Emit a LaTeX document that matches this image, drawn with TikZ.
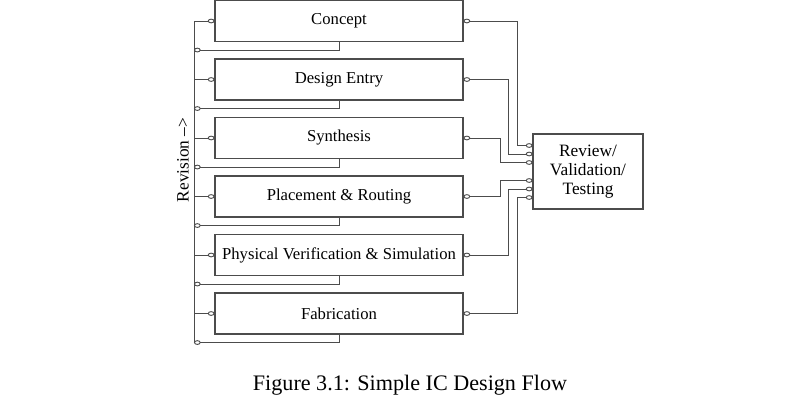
\documentclass[tikz,border=0pt]{standalone}
\usepackage{fontspec}
\setmainfont{Liberation Serif}
\usetikzlibrary{arrows.meta}

\tikzset{
  stage/.style={draw=black!70, line width=0.8pt, minimum width=186pt, minimum height=30.75pt, inner sep=0pt, font=\fontsize{12.5}{14}\selectfont},
  review/.style={draw=black!70, line width=0.8pt, minimum width=82.5pt, minimum height=56.25pt, align=center, font=\fontsize{13}{14.5}\selectfont},
  ring/.tip={Circle[open, length=5pt, width=3.5pt]},
  wire/.style={draw=black!70, line width=0.7pt},
}

\begin{document}
\begin{tikzpicture}[x=0.75pt,y=-0.75pt]
\useasboundingbox (0,0) rectangle (797,404);

% stages
\node[stage] (c1) at (339,21)    {Concept};
\node[stage] (c2) at (339,79.5)  {Design Entry};
\node[stage] (c3) at (339,138)   {Synthesis};
\node[stage] (c4) at (339,196.5) {Placement \& Routing};
\node[stage] (c5) at (339,255)   {Physical Verification \& Simulation};
\node[stage] (c6) at (339,313.5) {Fabrication};

\node[review] (rv) at (588,171.5) {Review/\\Validation/\\Testing};

% revision bus on the left
\coordinate (bus) at (194,0);
\coordinate (bend) at (194,343);
\draw[wire] (bus |- c1.west) -- (bend);
\node[rotate=90, font=\fontsize{13}{14}\selectfont] (rev) at (183,160) {Revision -->};

\foreach \i in {1,...,6}
  \draw[wire, -ring] (bus |- c\i.west) -- (c\i.west);

% feedback from each stage
\foreach \i in {1,...,6}
  \draw[wire, -ring] (c\i.south) -- ++(0,8) coordinate (fb\i) -- (fb\i -| bus);

% links to review
\foreach \i/\x/\dy in {1/517/-26, 2/508/-17.5, 3/500/-9, 4/500/9, 5/508/17.5, 6/517/26} {
  \path (rv.west) ++(0,\dy) coordinate (r\i);
  \coordinate (v\i) at (\x,0);
  \draw[wire, ring-ring] (c\i.east) -| (r\i -| v\i) -- (r\i);
}

\node[font=\fontsize{16.6}{19}\selectfont] (cap) at (410,385) {Figure 3.1: Simple IC Design Flow};
\end{tikzpicture}
\end{document}
